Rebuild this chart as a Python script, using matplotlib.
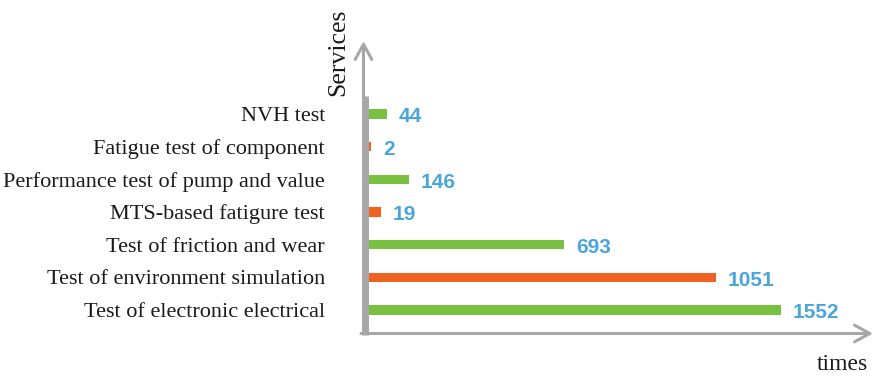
import matplotlib
matplotlib.use("Agg")
import matplotlib.pyplot as plt

# Categories listed bottom -> top
categories = [
    "Test of electronic electrical",
    "Test of environment simulation",
    "Test of friction and wear",
    "MTS-based fatigure test",
    "Performance test of pump and value",
    "Fatigue test of component",
    "NVH test",
]
values = [1552, 1051, 693, 19, 146, 2, 44]
# Bar lengths as drawn in the picture (the original is not drawn to scale)
bar_lengths = [413, 348, 196, 13, 41, 3, 19]
bar_colors = ["#79BF40", "#F0621F", "#79BF40", "#F0621F", "#79BF40", "#F0621F", "#79BF40"]

W, H = 874, 378
fig = plt.figure(figsize=(W / 100, H / 100), dpi=100)
fig.patch.set_facecolor("white")

gray = "#A7A7AA"
blue = "#4AA5DA"

# main axes (pixel geometry of reference)
ax_left, ax_right, ax_top, ax_bottom = 368, 874, 42, 335
ax = fig.add_axes([ax_left / W, (H - ax_bottom) / H,
                   (ax_right - ax_left) / W, (ax_bottom - ax_top) / H])
step = 32.67
y0_px = 310
ax.set_xlim(0, ax_right - ax_left)
ax.set_ylim(-(ax_bottom - y0_px) / step, (y0_px - ax_top) / step)
ypos = list(range(len(categories)))
ax.barh(ypos, bar_lengths, height=9.5 / step, color=bar_colors, left=0)
for y, L, v in zip(ypos, bar_lengths, values):
    ax.annotate(str(v), xy=(L, y), xytext=(8.5, -2), textcoords="offset points",
                ha="left", va="center", color=blue, fontsize=15,
                fontweight="bold", family="Liberation Sans")
ax.set_yticks(ypos)
ax.set_yticklabels(categories, family="Liberation Serif", fontsize=16, color="#1a1a1a")
ax.tick_params(axis="y", length=0, pad=31)
ax.set_xticks([])
for s in ax.spines.values():
    s.set_visible(False)
ax.patch.set_alpha(0)

# overlay for axis arrows and titles (pixel coordinates, y downward)
ov = fig.add_axes([0, 0, 1, 1])
ov.set_xlim(0, W)
ov.set_ylim(H, 0)
ov.axis("off")
ov.patch.set_alpha(0)

# thick y axis
ov.plot([364.5, 364.5], [96, 335], color=gray, lw=5, solid_capstyle="butt")
# thin y arrow
ov.annotate("", xy=(363.5, 41), xytext=(363.5, 97),
            arrowprops=dict(arrowstyle="->,head_length=0.55,head_width=0.3",
                            color=gray, lw=2.2, mutation_scale=20,
                            shrinkA=0, shrinkB=0))
# x axis arrow
ov.annotate("", xy=(873, 333.5), xytext=(361, 333.5),
            arrowprops=dict(arrowstyle="->,head_length=0.55,head_width=0.3",
                            color=gray, lw=2.2, mutation_scale=20,
                            shrinkA=0, shrinkB=0))

ov.text(338, 52, "Services", rotation=90, ha="center", va="center",
        family="Liberation Serif", fontsize=18.5, color="#1a1a1a")
ov.text(842, 364, "times", ha="center", va="center",
        family="Liberation Serif", fontsize=17, color="#1a1a1a")

fig.savefig("out.png", dpi=100, facecolor="white")
